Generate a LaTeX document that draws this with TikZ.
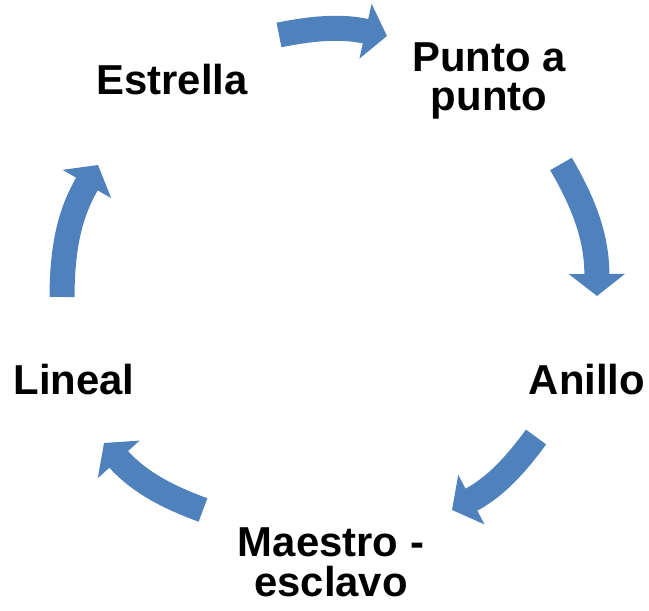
\documentclass[tikz,border=0pt]{standalone}
\usepackage{fontspec}
\setmainfont{Liberation Sans}
\usetikzlibrary{arrows.meta}
\definecolor{accentblue}{RGB}{79,129,189}
\tikzset{
    cycle-label/.style = {font=\fontsize{42}{40}\selectfont\bfseries, align=center, inner sep=0pt},
    cycle-arrow/.style = {draw=accentblue, line width=25bp, -{Triangle[length=22bp, width=55bp]}},
}

\begin{document}
\begin{tikzpicture}[x=1bp, y=1bp]
\useasboundingbox (0,0) rectangle (649,611);

% labels
\node [cycle-label] (punto) at (489,530) {Punto a\\punto};
\node [cycle-label] (anillo) at (587,231) {Anillo};
\node [cycle-label] (maestro) at (331,49) {Maestro -\\esclavo};
\node [cycle-label] (lineal) at (74,231) {Lineal};
\node [cycle-label] (estrella) at (172,531) {Estrella};

% arrow ends
\coordinate (estrella-out) at (279,576);
\coordinate (punto-in) at (387,575);
\coordinate (punto-out) at (561,447);
\coordinate (anillo-in) at (597,315);
\coordinate (anillo-out) at (536,174);
\coordinate (maestro-in) at (452,101);
\coordinate (maestro-out) at (203,101);
\coordinate (lineal-in) at (104,168);
\coordinate (lineal-out) at (62,314);
\coordinate (estrella-in) at (98,446);

\draw [cycle-arrow] (estrella-out) to[bend left=12] (punto-in);
\draw [cycle-arrow] (punto-out) to[bend left=15] (anillo-in);
\draw [cycle-arrow] (anillo-out) to[bend left=13] (maestro-in);
\draw [cycle-arrow] (maestro-out) to[bend left=14] (lineal-in);
\draw [cycle-arrow] (lineal-out) to[bend left=15] (estrella-in);
\end{tikzpicture}
\end{document}
